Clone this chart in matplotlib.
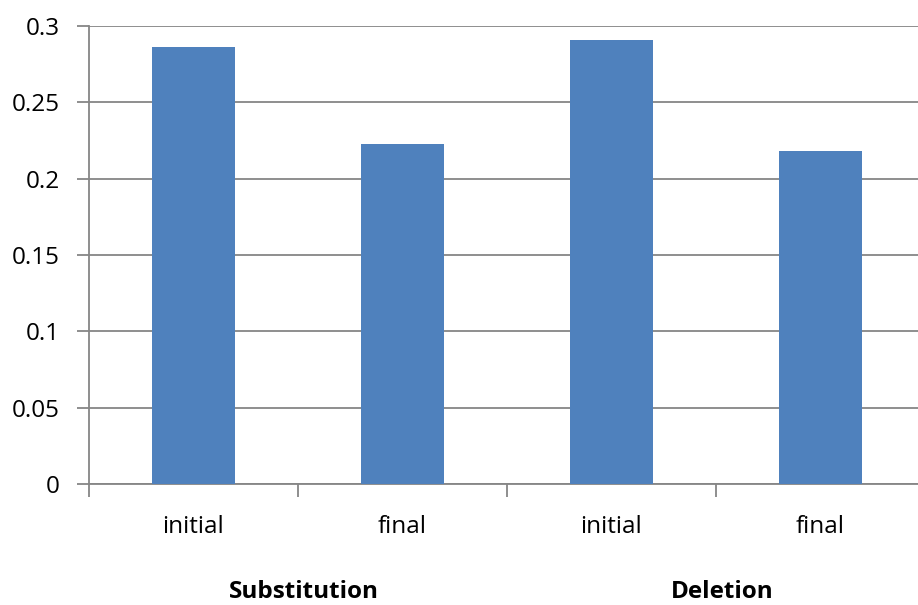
import matplotlib.pyplot as plt

groups = ["Substitution", "Deletion"]
stages = ["initial", "final", "initial", "final"]
values = [0.286, 0.223, 0.291, 0.218]
yticks = [0, 0.05, 0.1, 0.15, 0.2, 0.25, 0.3]
ytick_labels = ["0", "0.05", "0.1", "0.15", "0.2", "0.25", "0.3"]

plt.rcParams['font.family'] = ['Open Sans', 'DejaVu Sans']

fig = plt.figure(figsize=(9.18, 6.05), dpi=100)
# the last category runs slightly past the right edge of the figure
ax = fig.add_axes([89 / 918, 121 / 605, 836 / 918, 458 / 605])

x = list(range(len(values)))
ax.bar(x, values, width=0.4, color="#4F81BD", zorder=3)

ax.set_xlim(-0.5, len(values) - 0.5)
ax.set_ylim(0, 0.3)
ax.set_yticks(yticks)
ax.set_yticklabels(ytick_labels, fontsize=17.5)
ax.yaxis.grid(True, color="#868686", linewidth=1.3, zorder=0)

# category separators as ticks, labels centred under each bar
ax.set_xticks([i - 0.5 for i in range(len(values) + 1)])
ax.set_xticklabels([])
ax.set_xticks(x, minor=True)
ax.set_xticklabels(stages, minor=True, fontsize=17.5)
ax.tick_params(axis="x", which="minor", length=0, pad=22)
ax.tick_params(axis="x", which="major", length=9, color="#868686", width=1.3)
ax.tick_params(axis="y", length=9, color="#868686", width=1.3, pad=12)

for side in ["top", "right"]:
    ax.spines[side].set_visible(False)
for side in ["left", "bottom"]:
    ax.spines[side].set_color("#868686")
    ax.spines[side].set_linewidth(1.3)

for i, g in enumerate(groups):
    ax.text(2 * i + 0.5 + 0.03, -0.0705, g, ha="center", va="center", fontsize=17.5,
            fontweight="bold", transform=ax.transData, clip_on=False)

fig.savefig("out.png", dpi=100)
